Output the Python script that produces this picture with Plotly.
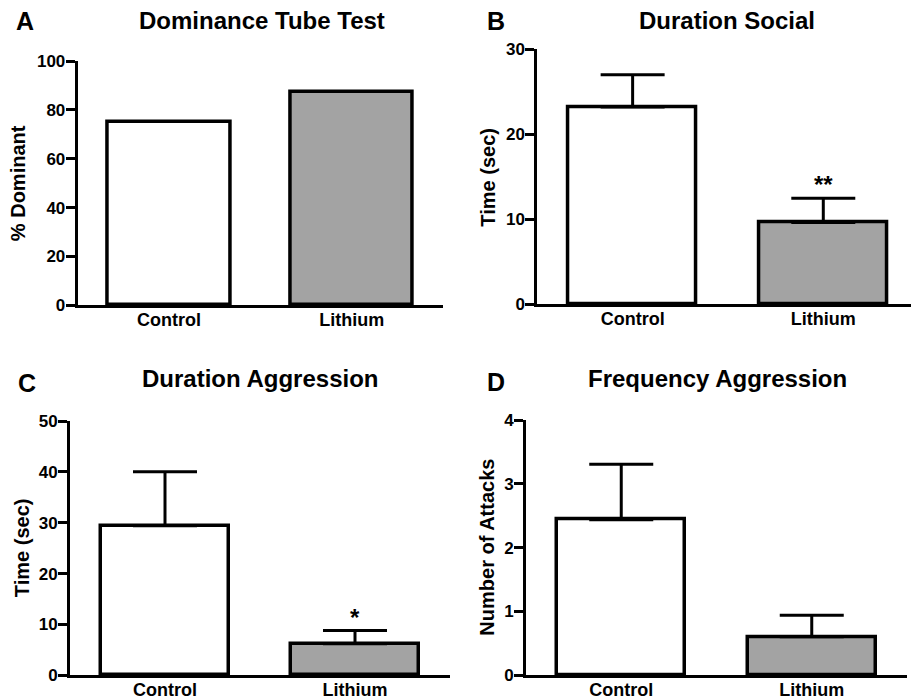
import plotly.graph_objects as go

W, H = 911, 700

categories = ["Control", "Lithium"]

# Panel A: Dominance tube test
dom_values = [75.0, 87.5]
# Panel B: Duration social
soc_values = [23.2, 9.6]
soc_sem = [3.8, 2.85]
soc_sig = ["", "**"]
# Panel C: Duration aggression
agg_values = [29.4, 6.2]
agg_sem = [10.6, 2.6]
agg_sig = ["", "*"]
# Panel D: Frequency aggression
freq_values = [2.44, 0.60]
freq_sem = [0.87, 0.34]
freq_sig = ["", ""]

panel_titles = ["Dominance Tube Test", "Duration Social", "Duration Aggression", "Frequency Aggression"]
panel_letters = ["A", "B", "C", "D"]
y_titles = ["% Dominant", "Time (sec)", "Time (sec)", "Number of Attacks"]
y_ticks = [[0, 20, 40, 60, 80, 100], [0, 10, 20, 30], [0, 10, 20, 30, 40, 50], [0, 1, 2, 3, 4]]
y_ranges = [[0, 100], [0, 30], [0, 50], [0, 4]]

FONT = "Liberation Sans, Arial, Helvetica, sans-serif"
fills = ["#ffffff", "#a3a3a3"]

# pixel layout for each panel: (left, right, bottom(y=0), top)
boxes = [
    (77.7, 443.0, 305.3, 61.0),
    (537.3, 911.0, 304.0, 49.3),
    (70.0, 450.0, 675.3, 421.0),
    (526.0, 907.0, 675.0, 420.3),
]
x_ranges = [[-0.5, 1.5], [-0.5, 1.46], [-0.5, 1.5], [-0.5, 1.5]]
title_pos = [(262, 20), (727, 20), (260, 378), (717, 378)]
letter_pos = [(25, 21), (496, 21), (27, 383), (496, 382)]
ytitle_x = [18, 488, 22, 487]

fig = go.Figure()

series = [
    (dom_values, None, ["", ""]),
    (soc_values, soc_sem, soc_sig),
    (agg_values, agg_sem, agg_sig),
    (freq_values, freq_sem, freq_sig),
]

annotations = []
for i, (vals, sem, sig) in enumerate(series):
    xa = "x" if i == 0 else f"x{i+1}"
    ya = "y" if i == 0 else f"y{i+1}"
    err = None
    if sem is not None:
        err = dict(type="data", array=sem, arrayminus=[0, 0], symmetric=False,
                   color="black", thickness=3, width=32, visible=True)
    fig.add_trace(go.Bar(
        x=categories, y=vals, xaxis=xa, yaxis=ya,
        marker=dict(color=fills, line=dict(color="black", width=3.5)),
        width=0.67, error_y=err, cliponaxis=False, showlegend=False,
        hoverinfo="x+y",
    ))
    if sem is not None:
        for j, s in enumerate(sig):
            if s:
                annotations.append(dict(
                    x=categories[j], y=vals[j] + sem[j], xref=xa, yref=ya,
                    text=f"<b>{s}</b>", showarrow=False, yanchor="bottom",
                    yshift=-2, font=dict(family=FONT, size=24, color="black")))

    l, r, b, t = boxes[i]
    axkey = "xaxis" if i == 0 else f"xaxis{i+1}"
    aykey = "yaxis" if i == 0 else f"yaxis{i+1}"
    fig.layout[axkey] = dict(
        domain=[l / W, r / W], range=x_ranges[i], anchor=ya, automargin=False,
        showline=True, linecolor="black", linewidth=3, ticks="",
        showgrid=False, zeroline=False, fixedrange=True, ticklabelstandoff=-4,
        tickfont=dict(family=FONT, size=18, color="black", weight="bold"),
    )
    fig.layout[aykey] = dict(
        domain=[1 - b / H, 1 - t / H], range=y_ranges[i], anchor=xa, automargin=False,
        showline=True, linecolor="black", linewidth=3, ticks="outside",
        ticklen=9, tickwidth=3, tickcolor="black", tickvals=y_ticks[i],
        showgrid=False, zeroline=False, fixedrange=True, ticklabelstandoff=-3,
        tickfont=dict(family=FONT, size=17, color="black", weight="bold"),
    )

    tx, ty = title_pos[i]
    annotations.append(dict(x=tx / W, y=1 - ty / H, xref="paper", yref="paper",
                            text=f"<b>{panel_titles[i]}</b>", showarrow=False,
                            xanchor="center", yanchor="middle",
                            font=dict(family=FONT, size=24, color="black")))
    lx, ly = letter_pos[i]
    annotations.append(dict(x=lx / W, y=1 - ly / H, xref="paper", yref="paper",
                            text=f"<b>{panel_letters[i]}</b>", showarrow=False,
                            xanchor="center", yanchor="middle",
                            font=dict(family=FONT, size=25, color="black")))
    annotations.append(dict(x=ytitle_x[i] / W, y=0.5, xref="paper", yref=f"{ya} domain",
                            text=f"<b>{y_titles[i]}</b>", showarrow=False, textangle=-90,
                            xanchor="center", yanchor="middle",
                            font=dict(family=FONT, size=20, color="black")))

fig.update_layout(
    width=W, height=H, margin=dict(l=0, r=0, t=0, b=0, pad=0, autoexpand=False),
    paper_bgcolor="white", plot_bgcolor="white",
    annotations=annotations, bargap=0,
)

fig.write_html("out.html", config={"displayModeBar": False},
               post_script="document.body.style.margin='0';")
